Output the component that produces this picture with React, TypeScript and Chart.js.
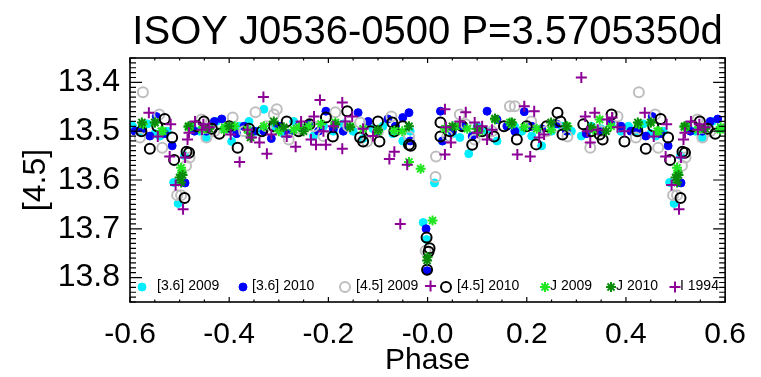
import React, { useEffect, useRef } from 'react';
import { Chart, registerables } from 'chart.js';

Chart.register(...registerables);

const FONT = "'Liberation Sans', Arial, Helvetica, sans-serif";
const TITLE = 'ISOY J0536-0500 P=3.5705350d';
const X_LABEL = 'Phase';
const Y_LABEL = '[4.5]';
const X_MIN = -0.6;
const X_MAX = 0.6;
const Y_MIN = 13.35;
const Y_MAX = 13.85;
const X_TICKS = [-0.6, -0.4, -0.2, 0, 0.2, 0.4, 0.6];
const Y_TICKS = [13.4, 13.5, 13.6, 13.7, 13.8];
const SERIES_NAMES = ['[3.6] 2009', '[3.6] 2010', '[4.5] 2009', '[4.5] 2010', 'J 2009', 'J 2010', 'I 1994'];

// [phase, magnitude]; phases in [-0.6, 0.4), points below -0.4 are also shown one cycle later
const cyan2009: number[][] = [
  [-0.595, 13.49], [-0.58, 13.5], [-0.565, 13.485], [-0.55, 13.505], [-0.54, 13.51], [-0.525, 13.5],
  [-0.512, 13.605], [-0.503, 13.648], [-0.49, 13.55], [-0.475, 13.49], [-0.46, 13.5], [-0.446, 13.513],
  [-0.426, 13.48], [-0.41, 13.495], [-0.395, 13.521], [-0.38, 13.49], [-0.36, 13.48], [-0.345, 13.5],
  [-0.33, 13.455], [-0.31, 13.49], [-0.29, 13.505], [-0.27, 13.48], [-0.25, 13.495], [-0.23, 13.51],
  [-0.21, 13.49], [-0.19, 13.5], [-0.17, 13.485], [-0.15, 13.5], [-0.13, 13.515], [-0.11, 13.495],
  [-0.09, 13.49], [-0.07, 13.505], [-0.05, 13.52], [-0.035, 13.5], [-0.009, 13.687], [-0.002, 13.722],
  [0.014, 13.606], [0.03, 13.52], [0.05, 13.505], [0.065, 13.513], [0.083, 13.546], [0.1, 13.49],
  [0.12, 13.5], [0.14, 13.52], [0.175, 13.49], [0.19, 13.5], [0.21, 13.51], [0.23, 13.53],
  [0.25, 13.5], [0.27, 13.49], [0.29, 13.5], [0.31, 13.51], [0.33, 13.49], [0.35, 13.495],
  [0.37, 13.485], [0.39, 13.5],
];
const blue2010: number[][] = [
  [-0.59, 13.5], [-0.575, 13.495], [-0.56, 13.51], [-0.547, 13.47], [-0.53, 13.505], [-0.515, 13.53],
  [-0.489, 13.606], [-0.47, 13.5], [-0.446, 13.5], [-0.43, 13.48], [-0.415, 13.475], [-0.4, 13.495],
  [-0.385, 13.505], [-0.37, 13.49], [-0.35, 13.5], [-0.33, 13.5], [-0.315, 13.515], [-0.3, 13.49],
  [-0.28, 13.505], [-0.26, 13.49], [-0.24, 13.485], [-0.22, 13.5], [-0.205, 13.459], [-0.19, 13.495],
  [-0.17, 13.5], [-0.14, 13.462], [-0.12, 13.48], [-0.1, 13.5], [-0.08, 13.475], [-0.065, 13.49],
  [-0.05, 13.472], [-0.0375, 13.462], [-0.035, 13.52], [-0.003, 13.7], [-0.001, 13.786], [0.026, 13.459],
  [0.03, 13.52], [0.05, 13.5], [0.07, 13.49], [0.09, 13.51], [0.12, 13.459], [0.14, 13.476],
  [0.16, 13.49], [0.176, 13.5], [0.195, 13.46], [0.21, 13.49], [0.23, 13.495], [0.26, 13.485],
  [0.28, 13.5], [0.32, 13.505], [0.345, 13.5], [0.37, 13.48], [0.39, 13.49],
];
const gray2009: number[][] = [
  [-0.574, 13.42], [-0.58, 13.513], [-0.541, 13.466], [-0.535, 13.534], [-0.505, 13.631], [-0.497, 13.631],
  [-0.487, 13.571], [-0.48, 13.554], [-0.456, 13.476], [-0.446, 13.513], [-0.43, 13.5], [-0.393, 13.472],
  [-0.37, 13.5], [-0.347, 13.461], [-0.325, 13.49], [-0.31, 13.466], [-0.304, 13.455], [-0.28, 13.517],
  [-0.26, 13.495], [-0.23, 13.49], [-0.21, 13.51], [-0.186, 13.461], [-0.16, 13.49], [-0.136, 13.482],
  [-0.122, 13.521], [-0.1, 13.5], [-0.073, 13.47], [-0.0375, 13.511], [-0.004, 13.745], [0.016, 13.594],
  [0.017, 13.552], [0.04, 13.51], [0.065, 13.466], [0.077, 13.486], [0.095, 13.517], [0.13, 13.5],
  [0.166, 13.449], [0.176, 13.449], [0.209, 13.48], [0.24, 13.5], [0.26, 13.49], [0.282, 13.511],
  [0.328, 13.534], [0.35, 13.5], [0.383, 13.47],
];
const black2010: number[][] = [
  [-0.577, 13.5], [-0.56, 13.536], [-0.545, 13.49], [-0.53, 13.475], [-0.515, 13.513], [-0.511, 13.559],
  [-0.49, 13.637], [-0.486, 13.542], [-0.481, 13.544], [-0.465, 13.49], [-0.451, 13.48], [-0.435, 13.495],
  [-0.42, 13.505], [-0.4, 13.49], [-0.383, 13.534], [-0.36, 13.495], [-0.334, 13.5], [-0.31, 13.49],
  [-0.284, 13.48], [-0.26, 13.5], [-0.238, 13.486], [-0.205, 13.472], [-0.191, 13.511], [-0.162, 13.459],
  [-0.136, 13.513], [-0.13, 13.521], [-0.115, 13.5], [-0.1, 13.48], [-0.097, 13.521], [-0.071, 13.482],
  [-0.067, 13.5], [-0.05, 13.49], [-0.0375, 13.528], [-0.034, 13.53], [-0.002, 13.718], [0.004, 13.74],
  [0.002, 13.747], [-0.001, 13.784], [0.026, 13.482], [0.026, 13.511], [0.045, 13.5], [0.07, 13.49],
  [0.09, 13.528], [0.11, 13.5], [0.134, 13.511], [0.154, 13.49], [0.18, 13.517], [0.2, 13.49],
  [0.219, 13.527], [0.24, 13.49], [0.262, 13.462], [0.268, 13.48], [0.272, 13.507], [0.314, 13.486],
  [0.33, 13.5], [0.347, 13.507], [0.353, 13.517], [0.371, 13.466], [0.397, 13.521],
];
const j2009: number[][] = [
  [-0.574, 13.486], [-0.55, 13.482], [-0.537, 13.5], [-0.534, 13.5], [-0.497, 13.575], [-0.495, 13.585],
  [-0.482, 13.492], [-0.479, 13.49], [-0.455, 13.497], [-0.41, 13.497], [-0.409, 13.492], [-0.389, 13.49],
  [-0.363, 13.497], [-0.33, 13.49], [-0.3, 13.5], [-0.27, 13.497], [-0.259, 13.492], [-0.24, 13.49],
  [-0.215, 13.485], [-0.186, 13.482], [-0.156, 13.49], [-0.13, 13.495], [-0.1, 13.5], [-0.067, 13.499],
  [-0.051, 13.5], [-0.0375, 13.563], [-0.014, 13.577], [0.01, 13.683], [0.035, 13.495], [0.057, 13.49],
  [0.08, 13.495], [0.105, 13.5], [0.136, 13.476], [0.166, 13.482], [0.17, 13.486], [0.195, 13.492],
  [0.22, 13.495], [0.249, 13.497], [0.282, 13.49], [0.334, 13.497], [0.347, 13.476], [0.37, 13.49],
];
const j2010: number[][] = [
  [-0.576, 13.482], [-0.55, 13.482], [-0.5, 13.595], [-0.497, 13.605], [-0.494, 13.59], [-0.482, 13.49],
  [-0.44, 13.495], [-0.4, 13.49], [-0.357, 13.513], [-0.31, 13.48], [-0.29, 13.492], [-0.25, 13.5],
  [-0.186, 13.486], [-0.156, 13.492], [-0.1, 13.497], [-0.0375, 13.49], [-0.001, 13.765], [0.0, 13.758],
  [0.05, 13.49], [0.1, 13.495], [0.136, 13.474], [0.17, 13.482], [0.249, 13.482], [0.28, 13.49],
  [0.33, 13.492], [0.36, 13.5],
];
const i1994: number[][] = [
  [-0.562, 13.462], [-0.544, 13.511], [-0.518, 13.486], [-0.52, 13.552], [-0.508, 13.61], [-0.493, 13.66],
  [-0.489, 13.554], [-0.484, 13.517], [-0.481, 13.503], [-0.469, 13.48], [-0.455, 13.497], [-0.452, 13.486],
  [-0.44, 13.492], [-0.397, 13.507], [-0.379, 13.563], [-0.363, 13.497], [-0.355, 13.513], [-0.339, 13.523],
  [-0.331, 13.43], [-0.324, 13.546], [-0.315, 13.507], [-0.284, 13.511], [-0.266, 13.532], [-0.255, 13.48],
  [-0.235, 13.517], [-0.229, 13.47], [-0.225, 13.528], [-0.217, 13.436], [-0.21, 13.5], [-0.205, 13.528],
  [-0.19, 13.49], [-0.172, 13.441], [-0.172, 13.536], [-0.166, 13.48], [-0.152, 13.47], [-0.13, 13.495],
  [-0.11, 13.51], [-0.077, 13.557], [-0.067, 13.542], [-0.055, 13.69], [-0.041, 13.569], [0.006, 13.817],
  [0.035, 13.455], [0.035, 13.548], [0.037, 13.492], [0.047, 13.523], [0.065, 13.48], [0.077, 13.461],
  [0.095, 13.482], [0.1, 13.503], [0.11, 13.49], [0.12, 13.517], [0.13, 13.497], [0.181, 13.548],
  [0.195, 13.449], [0.207, 13.552], [0.215, 13.459], [0.225, 13.513], [0.235, 13.507], [0.31, 13.39],
  [0.318, 13.47], [0.322, 13.5], [0.328, 13.523], [0.337, 13.462], [0.343, 13.497], [0.362, 13.476],
  [0.372, 13.472], [0.383, 13.492], [0.397, 13.5],
];

const STYLES = [
  { color: '#00eeff', fill: '#00eeff', shape: 'circle', r: 4, w: 1 },
  { color: '#0000ff', fill: '#0000ff', shape: 'circle', r: 4, w: 1 },
  { color: '#bebebe', fill: 'rgba(0,0,0,0)', shape: 'circle', r: 5, w: 2 },
  { color: '#000000', fill: 'rgba(0,0,0,0)', shape: 'circle', r: 5, w: 2 },
  { color: '#22e622', fill: '#22e622', shape: 'star', r: 5, w: 2 },
  { color: '#0a8c0a', fill: '#0a8c0a', shape: 'star', r: 5, w: 2 },
  { color: '#8c0096', fill: '#8c0096', shape: 'cross', r: 5.5, w: 2 },
];
const SERIES = [cyan2009, blue2010, gray2009, black2010, j2009, j2010, i1994];

function folded(pts: number[][]) {
  const out: { x: number; y: number }[] = [];
  for (const [p, m] of pts) {
    out.push({ x: p, y: m });
    if (p < -0.4) out.push({ x: p + 1, y: m });
  }
  return out;
}

function drawMarker(ctx: CanvasRenderingContext2D, st: any, x: number, y: number) {
  ctx.save();
  ctx.strokeStyle = st.color;
  ctx.fillStyle = st.fill;
  ctx.lineWidth = st.w;
  ctx.beginPath();
  if (st.shape === 'circle') {
    ctx.arc(x, y, st.r, 0, Math.PI * 2);
    ctx.fill();
    ctx.stroke();
  } else if (st.shape === 'cross') {
    ctx.moveTo(x - st.r, y); ctx.lineTo(x + st.r, y);
    ctx.moveTo(x, y - st.r); ctx.lineTo(x, y + st.r);
    ctx.stroke();
  } else {
    const d = st.r * Math.SQRT1_2;
    ctx.moveTo(x - st.r, y); ctx.lineTo(x + st.r, y);
    ctx.moveTo(x, y - st.r); ctx.lineTo(x, y + st.r);
    ctx.moveTo(x - d, y - d); ctx.lineTo(x + d, y + d);
    ctx.moveTo(x - d, y + d); ctx.lineTo(x + d, y - d);
    ctx.stroke();
  }
  ctx.restore();
}

const LEGEND_POS = [
  [142, 157], [243, 252], [345, 356], [446, 457], [545, 550], [611, 616], [675, 680],
];

const framePlugin = {
  id: 'idlFrame',
  afterDatasetsDraw(chart: any) {
    const ctx: CanvasRenderingContext2D = chart.ctx;
    const { left, right, top, bottom } = chart.chartArea;
    const xs = chart.scales.x;
    const ys = chart.scales.y;
    ctx.save();
    ctx.strokeStyle = '#000';
    ctx.lineWidth = 1.6;
    ctx.strokeRect(left, top, right - left, bottom - top);
    ctx.lineWidth = 1.2;
    ctx.beginPath();
    for (let i = 0; i <= 24; i++) {
      const v = X_MIN + i * 0.05;
      const px = xs.getPixelForValue(v);
      const len = i % 4 === 0 ? 5 : 2.5;
      ctx.moveTo(px, bottom); ctx.lineTo(px, bottom - len);
      ctx.moveTo(px, top); ctx.lineTo(px, top + len);
    }
    for (let i = 0; i <= 50; i++) {
      const v = Y_MIN + i * 0.01;
      const py = ys.getPixelForValue(v);
      const k = Math.round((v - 13.4) * 100);
      const len = ((k % 10) + 10) % 10 === 0 ? 12 : 6;
      ctx.moveTo(left, py); ctx.lineTo(left + len, py);
      ctx.moveTo(right, py); ctx.lineTo(right - len, py);
    }
    ctx.stroke();

    ctx.fillStyle = '#000';
    ctx.textAlign = 'center';
    ctx.textBaseline = 'alphabetic';
    ctx.font = `40px ${FONT}`;
    ctx.fillText(TITLE, (left + right) / 2, 44);
    ctx.font = `30px ${FONT}`;
    ctx.fillText(X_LABEL, (left + right) / 2, 369);
    ctx.save();
    ctx.translate(45, (top + bottom) / 2);
    ctx.rotate(-Math.PI / 2);
    ctx.font = `32px ${FONT}`;
    ctx.fillText(Y_LABEL, 0, 0);
    ctx.restore();

    ctx.font = `14px ${FONT}`;
    ctx.textAlign = 'left';
    SERIES_NAMES.forEach((name, i) => {
      const [mx, tx] = LEGEND_POS[i];
      drawMarker(ctx, STYLES[i], mx, 287);
      ctx.fillStyle = '#000';
      ctx.fillText(name, tx, 290);
    });
    ctx.restore();
  },
};

export default function App() {
  const ref = useRef<HTMLCanvasElement | null>(null);
  useEffect(() => {
    document.body.style.margin = '0';
    const canvas = ref.current!;
    const datasets = SERIES.map((pts, i) => {
      const st = STYLES[i];
      return {
        label: SERIES_NAMES[i],
        data: folded(pts),
        showLine: false,
        pointStyle: st.shape,
        pointRadius: st.r,
        pointHoverRadius: st.r,
        pointBorderWidth: st.w,
        borderColor: st.color,
        backgroundColor: st.fill,
        pointBorderColor: st.color,
        pointBackgroundColor: st.fill,
        order: SERIES.length - i,
      };
    });
    const chart = new Chart(canvas, {
      type: 'scatter',
      data: { datasets: datasets as any },
      options: {
        responsive: false,
        animation: false,
        devicePixelRatio: 1,
        layout: { padding: { left: 0, right: 23, top: 58, bottom: 0 } },
        plugins: {
          legend: { display: false },
          tooltip: { enabled: false },
          title: { display: false },
        },
        scales: {
          x: {
            type: 'linear',
            min: X_MIN,
            max: X_MAX,
            grid: { display: false, drawTicks: false },
            border: { display: false },
            afterBuildTicks: (s: any) => { s.ticks = X_TICKS.map((v) => ({ value: v })); },
            afterFit: (s: any) => { s.height = 75; },
            ticks: {
              autoSkip: false,
              maxRotation: 0,
              padding: 15,
              color: '#000',
              font: { family: FONT, size: 30 },
              callback: (v: any) => (Math.abs(Number(v)) < 1e-9 ? '-0.0' : Number(v).toFixed(1)),
            },
          },
          y: {
            type: 'linear',
            reverse: true,
            min: Y_MIN,
            max: Y_MAX,
            grid: { display: false, drawTicks: false },
            border: { display: false },
            afterBuildTicks: (s: any) => { s.ticks = Y_TICKS.map((v) => ({ value: v })); },
            afterFit: (s: any) => { s.width = 130; },
            ticks: {
              autoSkip: false,
              padding: 10,
              color: '#000',
              font: { family: FONT, size: 32 },
              callback: (v: any) => Number(v).toFixed(1),
            },
          },
        },
      },
      plugins: [framePlugin],
    });
    return () => chart.destroy();
  }, []);
  return <canvas ref={ref} width={761} height={377} style={{ display: 'block' }} />;
}
